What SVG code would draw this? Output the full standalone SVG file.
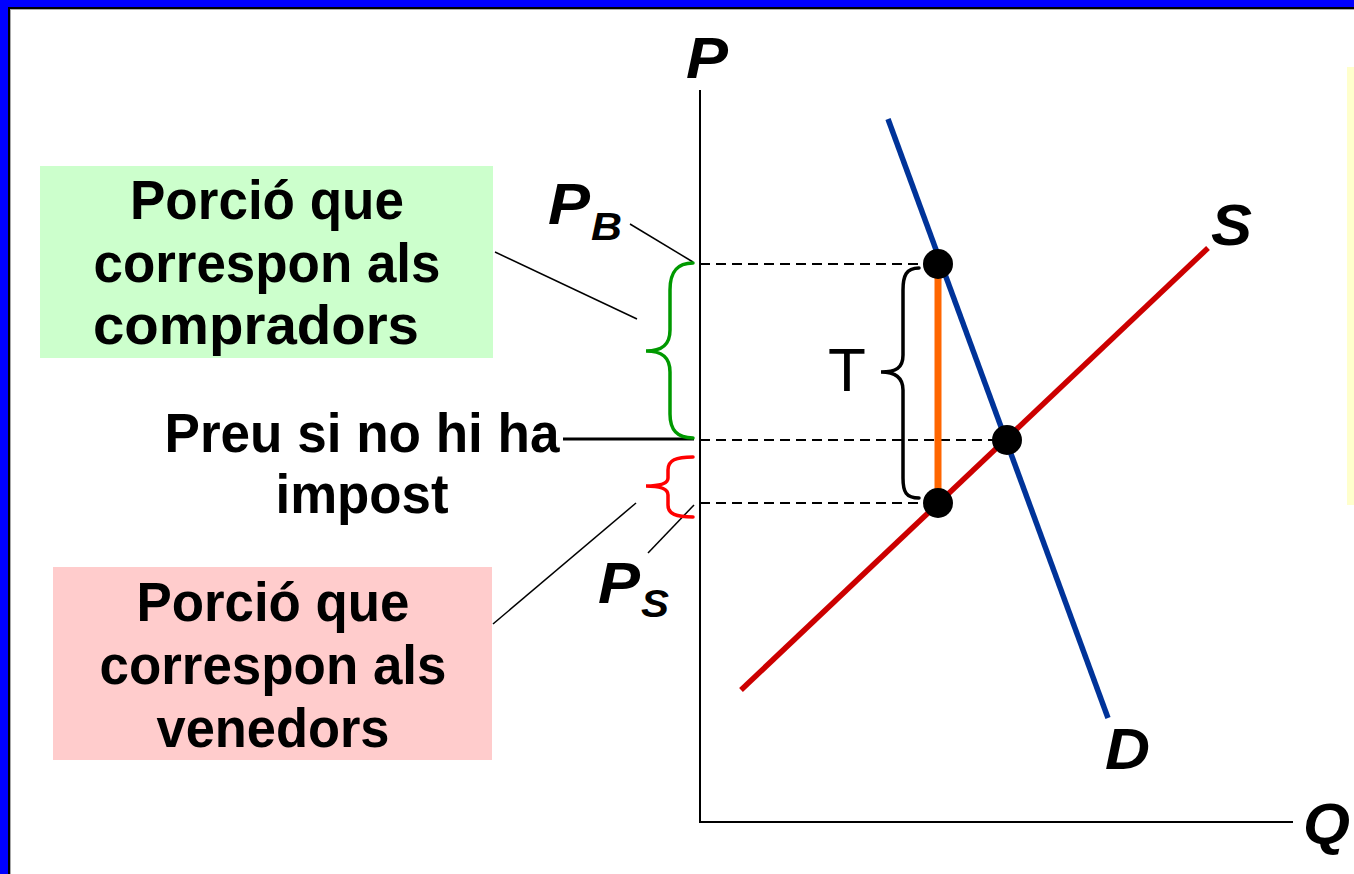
<svg xmlns="http://www.w3.org/2000/svg" width="1354" height="874" viewBox="0 0 1354 874">
<style>
.lbl{font-family:"Liberation Sans",Arial,sans-serif;font-weight:bold;font-size:55px;fill:#000;text-anchor:middle}
.ax{font-family:"Liberation Sans",Arial,sans-serif;font-weight:bold;font-style:italic;fill:#000}
.dash{stroke:#000;stroke-width:2;stroke-dasharray:10,6;fill:none}
.lead{stroke:#000;stroke-width:1.5;fill:none}
.brace{fill:none;stroke-width:3.5;stroke-linecap:round}
</style>
<rect x="0" y="0" width="1354" height="874" fill="#fff"/>
<g id="frame">
<rect x="0" y="0" width="1354" height="7" fill="#0000ff"/>
<rect x="0" y="0" width="8" height="874" fill="#0000ff"/>
<rect x="8" y="7" width="1346" height="2" fill="#000"/>
<rect x="8" y="7" width="2" height="867" fill="#000"/>
<rect x="10" y="9" width="1344" height="1" fill="#aaa"/>
<rect x="10" y="9" width="1" height="865" fill="#aaa"/>
<rect x="1347" y="67" width="7" height="438" fill="#ffffcc"/>
</g>
<g id="axes">
<line x1="700" y1="90" x2="700" y2="823" stroke="#000" stroke-width="2"/>
<line x1="699" y1="822" x2="1293" y2="822" stroke="#000" stroke-width="2"/>
<text class="ax" x="686" y="78" font-size="57" textLength="42" lengthAdjust="spacingAndGlyphs">P</text>
<text class="ax" x="1303" y="844" font-size="57" textLength="47" lengthAdjust="spacingAndGlyphs">Q</text>
</g>
<g id="connectors">
<line class="dash" x1="700" y1="264" x2="926" y2="264"/>
<line class="dash" x1="700" y1="440" x2="994" y2="440"/>
<line class="dash" x1="700" y1="503" x2="926" y2="503"/>
<line class="lead" x1="630" y1="224" x2="693" y2="262"/>
<line class="lead" x1="495" y1="252" x2="637" y2="319"/>
<line class="lead" x1="493" y1="624" x2="636" y2="503"/>
<line class="lead" x1="648" y1="553" x2="694" y2="505"/>
<line x1="563" y1="439" x2="694" y2="439" stroke="#000" stroke-width="3"/>
</g>
<g id="demand">
<line x1="888" y1="119" x2="1108" y2="718" stroke="#003399" stroke-width="5.5"/>
<text class="ax" x="1105" y="769" font-size="57" textLength="45" lengthAdjust="spacingAndGlyphs">D</text>
</g>
<g id="supply">
<line x1="741" y1="690" x2="1208" y2="248" stroke="#cc0000" stroke-width="5.5"/>
<text class="ax" x="1211" y="245" font-size="57" textLength="41" lengthAdjust="spacingAndGlyphs">S</text>
</g>
<g id="tax">
<line x1="938" y1="264" x2="938" y2="503" stroke="#ff6600" stroke-width="7"/>
<path class="brace" stroke="#000" d="M919,268 C906,268 903,276 903,290 L903,355 C903,368 896,372 881,372 C896,372 903,378 903,390 L903,478 C903,492 906,498 919,498"/>
<text x="828" y="391" font-family="'Liberation Sans',Arial,sans-serif" font-size="62" fill="#000">T</text>
</g>
<g id="points">
<circle cx="938" cy="264" r="15"/>
<circle cx="1007" cy="440" r="15"/>
<circle cx="938" cy="503" r="15"/>
</g>
<g id="pb">
<text class="ax" x="548" y="224" font-size="57" textLength="42" lengthAdjust="spacingAndGlyphs">P</text>
<text class="ax" x="591" y="240" font-size="39" textLength="31" lengthAdjust="spacingAndGlyphs">B</text>
</g>
<g id="ps">
<text class="ax" x="598" y="603" font-size="57" textLength="42" lengthAdjust="spacingAndGlyphs">P</text>
<text class="ax" x="641" y="617" font-size="39" textLength="28" lengthAdjust="spacingAndGlyphs">S</text>
</g>
<g id="green-brace">
<path class="brace" stroke="#009900" d="M693,263 C677,263 670,272 670,290 L670,330 C670,345 662,351 646,351 C662,351 670,357 670,372 L670,414 C670,430 677,438 693,438"/>
</g>
<g id="red-brace">
<path class="brace" stroke="#ff0000" d="M693,457 C676,457 668,460 668,470 L668,478 C668,484 660,486 646,486 C660,486 668,489 668,495 L668,505 C668,514 676,517 693,517"/>
</g>
<g id="buyers">
<rect x="40" y="166" width="453" height="192" fill="#ccffcc"/>
<text class="lbl" x="267" y="219" textLength="274" lengthAdjust="spacingAndGlyphs">Porció que</text>
<text class="lbl" x="267" y="282" textLength="347" lengthAdjust="spacingAndGlyphs">correspon als</text>
<text class="lbl" x="256" y="344" textLength="326" lengthAdjust="spacingAndGlyphs">compradors</text>
</g>
<g id="notax">
<text class="lbl" x="362" y="452" textLength="395" lengthAdjust="spacingAndGlyphs">Preu si no hi ha</text>
<text class="lbl" x="362" y="513" textLength="173" lengthAdjust="spacingAndGlyphs">impost</text>
</g>
<g id="sellers">
<rect x="53" y="567" width="439" height="193" fill="#ffcccc"/>
<text class="lbl" x="273" y="621" textLength="273" lengthAdjust="spacingAndGlyphs">Porció que</text>
<text class="lbl" x="273" y="684" textLength="347" lengthAdjust="spacingAndGlyphs">correspon als</text>
<text class="lbl" x="273" y="747" textLength="233" lengthAdjust="spacingAndGlyphs">venedors</text>
</g>
</svg>
